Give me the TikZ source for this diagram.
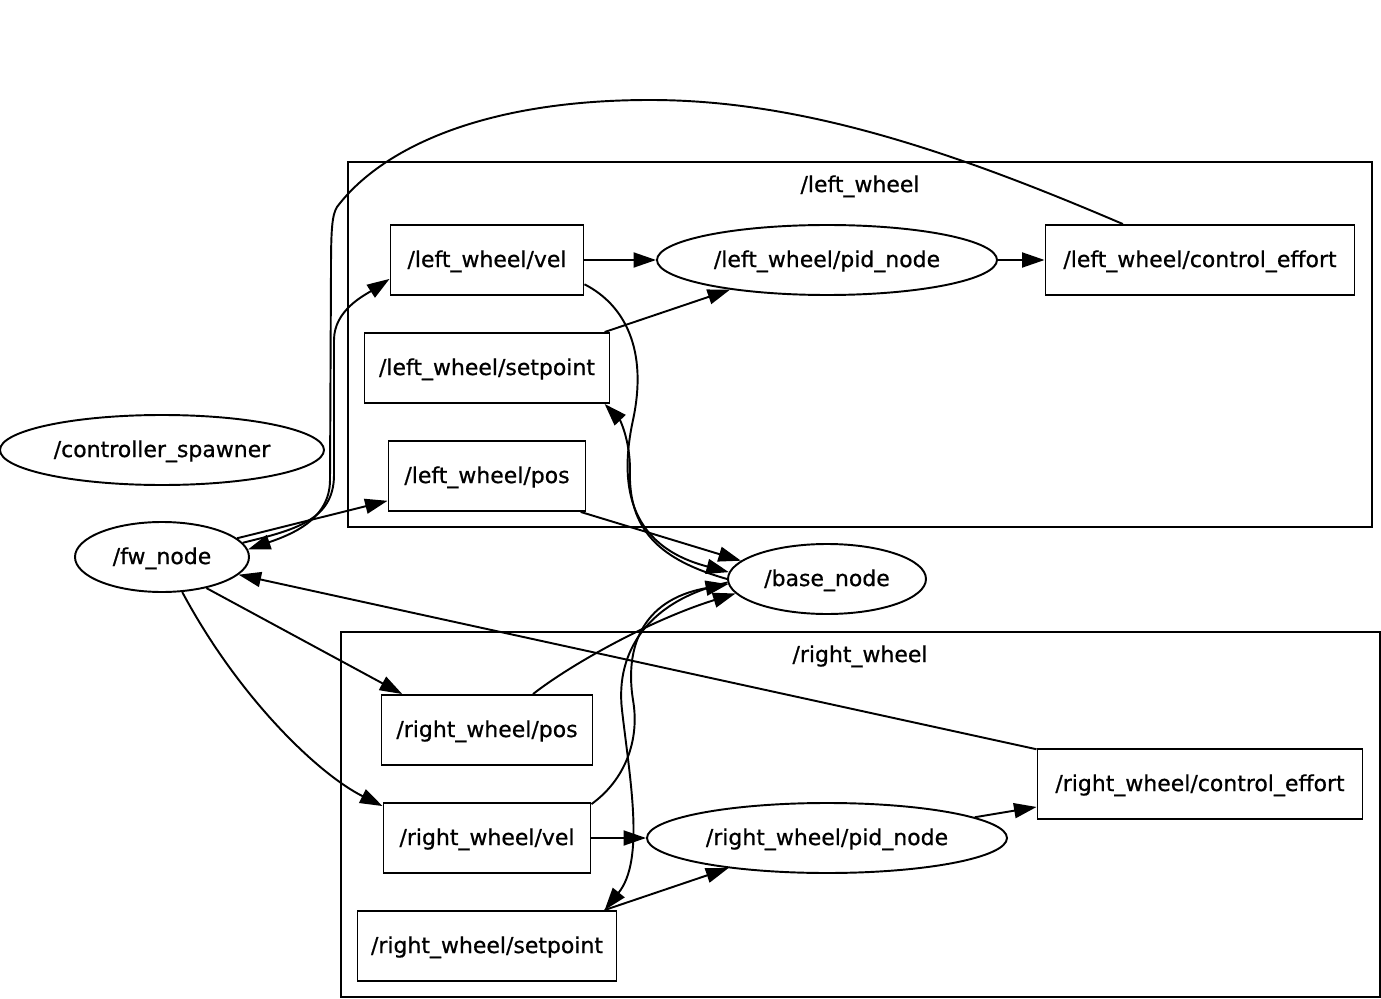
\documentclass[tikz,border=0pt]{standalone}
\usepackage{fontspec}
\setmainfont{DejaVu Sans}[FakeBold=0.7]
\usetikzlibrary{arrows.meta,shapes.geometric}

\begin{document}
\begin{tikzpicture}[every node/.style={font=\fontsize{12.5}{15}\selectfont,inner sep=0pt,text height=0.85em,text depth=0.05em},
  box/.style={draw,minimum height=14mm},oval/.style={draw,ellipse,minimum height=14mm},
  line width=1.1pt,>={Triangle[length=4.5mm,width=3mm]}]
\useasboundingbox (0,0) rectangle (27.62,-19.98);
% groups
\draw (6.96,-3.24) rectangle (27.44,-10.54);
\node (lgrp) at (17.2,-3.7) {/left\_wheel};
\draw (6.82,-12.64) rectangle (27.60,-19.94);
\node (rgrp) at (17.2,-13.1) {/right\_wheel};
% nodes
\node[oval,minimum width=64.8mm] (ctrl) at (3.24,-9.00) {/controller\_spawner};
\node[oval,minimum width=34.8mm] (fw) at (3.24,-11.14) {/fw\_node};
\node[oval,minimum width=39.6mm] (base) at (16.54,-11.58) {/base\_node};
\node[box,minimum width=38.6mm] (lvel) at (9.74,-5.20) {/left\_wheel/vel};
\node[oval,minimum width=68mm] (lpid) at (16.54,-5.20) {/left\_wheel/pid\_node};
\node[box,minimum width=61.8mm] (lce) at (24.00,-5.20) {/left\_wheel/control\_effort};
\node[box,minimum width=49mm] (lsp) at (9.74,-7.36) {/left\_wheel/setpoint};
\node[box,minimum width=39.4mm] (lpos) at (9.74,-9.52) {/left\_wheel/pos};
\node[box,minimum width=42.2mm] (rpos) at (9.74,-14.60) {/right\_wheel/pos};
\node[box,minimum width=41.4mm] (rvel) at (9.74,-16.76) {/right\_wheel/vel};
\node[oval,minimum width=72mm] (rpid) at (16.54,-16.76) {/right\_wheel/pid\_node};
\node[box,minimum width=65mm] (rce) at (24.00,-15.68) {/right\_wheel/control\_effort};
\node[box,minimum width=51.8mm] (rsp) at (9.74,-18.92) {/right\_wheel/setpoint};
% straight edges
\draw[->] (lvel.east)--(lpid.west);\draw[->] (lpid.east)--(lce.west);
\draw[->] (lsp.17)--(lpid.197);\draw[->] (fw.14)--(lpos.194);
\draw[->] (lpos.-21)--(base.168);\draw[->] (fw.-35)--(rpos.157);
\draw[->] (rvel.east)--(rpid.west);\draw[->] (rsp.17)--(rpid.197);
\draw[->] (rpid.8)--(rce.188);\draw[->] (rce.168)--(fw.-13);
% curved edges
\draw[->] (lce.155) .. controls (19.0,-3.0) and (16.0,-2.0) .. (13.0,-2.0)
  .. controls (9.6,-2.0) and (7.6,-3.0) .. (6.74,-4.14)
  .. controls (6.64,-4.3) and (6.62,-4.6) .. (6.62,-5.4) -- (6.60,-9.6)
  .. controls (6.60,-10.4) and (5.8,-10.7) .. (fw.5);
\draw[->] (fw.10) .. controls (5.9,-10.6) and (6.68,-10.4) .. (6.68,-9.5) -- (6.68,-6.8)
  .. controls (6.68,-6.2) and (7.3,-5.9) .. (lvel.191);
\draw[->] (lvel.-14) .. controls (12.5,-6.1) and (12.96,-7.0) .. (12.66,-8.4)
  .. controls (12.4,-9.6) and (12.5,-10.9) .. (base.176);
\draw[->] (base.180) .. controls (13.2,-11.2) and (12.56,-10.6) .. (12.6,-9.4)
  .. controls (12.6,-8.8) and (12.4,-8.4) .. (lsp.-17);
\draw[->] (fw.-60) .. controls (4.8,-14.0) and (6.4,-15.5) .. (rvel.163);
\draw[->] (rpos.38) .. controls (11.4,-13.3) and (13.0,-12.4) .. (base.189);
\draw[->] (rvel.18) .. controls (12.5,-15.6) and (12.8,-14.8) .. (12.66,-14.0)
  .. controls (12.5,-13.0) and (12.8,-12.0) .. (base.183);
\draw[->] (base.182) .. controls (13.0,-12.0) and (12.3,-13.0) .. (12.44,-14.2)
  .. controls (12.6,-15.6) and (12.9,-17.2) .. (rsp.17);
\end{tikzpicture}
\end{document}
